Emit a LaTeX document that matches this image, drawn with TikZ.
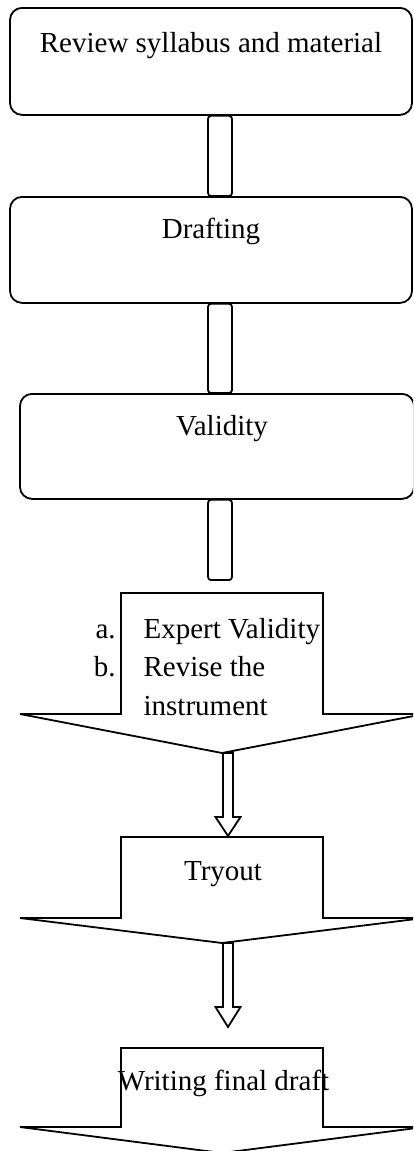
\documentclass[tikz,border=0pt]{standalone}
\usepackage{fontspec}
\setmainfont{Liberation Serif}
\usetikzlibrary{calc}

\begin{document}
\begin{tikzpicture}[x=1pt, y=-1pt, line width=1.8pt, font=\fontsize{29}{38.5}\selectfont,
    roundbox/.style={draw, rounded corners=12pt, inner sep=0pt, anchor=north},
    link/.style={draw, rounded corners=3pt},
    blockarrow/.style={draw, line join=miter},
    hollowarrow/.style={draw, line join=miter}]
    \clip (0, 0) rectangle (413, 1151);

    % rounded steps
    \node[roundbox, minimum width=402pt, text height=45pt, text depth=62pt] (review) at (211, 7) {Review syllabus and material\hspace{6pt}};
    \node[roundbox, minimum width=402pt, text height=42pt, text depth=64pt] (drafting) at (211, 196) {Drafting};
    \node[roundbox, minimum width=394pt, text height=42pt, text depth=63pt] (validity) at (217, 393) {\hspace{10pt}Validity};

    \coordinate (gap) at (232, 580);
    \draw[link] (208,0 |- review.south) rectangle (232,0 |- drafting.north);
    \draw[link] (208,0 |- drafting.south) rectangle (232,0 |- validity.north);
    \draw[link] (208,0 |- validity.south) rectangle (gap);

    % block arrows
    \draw[blockarrow] (121, 593) -- (323, 593) -- (323, 714) -- (424, 714) -- (222, 753) -- (20, 714) -- (121, 714) -- cycle;
    \node[anchor=base west, inner sep=0pt] (expert) at (93, 638) {\begin{tabular}[t]{@{}r@{\hspace{28pt}}l@{}}
        a. & Expert Validity\\
        b. & Revise the\\
           & instrument
      \end{tabular}};
    \coordinate (tip1) at (228, 753);

    \draw[blockarrow] (121, 837) -- (323, 837) -- (323, 918) -- (424, 918) -- (222, 943) -- (20, 918) -- (121, 918) -- cycle;
    \node[anchor=base] (tryout) at (223, 880) {Tryout};
    \coordinate (tip2) at (228, 943);

    \draw[blockarrow] (121, 1048) -- (323, 1048) -- (323, 1127) -- (424, 1127) -- (222, 1153) -- (20, 1127) -- (121, 1127) -- cycle;
    \node[anchor=base] (final) at (223.5, 1090) {Writing final draft};

    % hollow arrows between blocks
    \draw[hollowarrow] (tip1) ++(-5, 0) -- ++(0, 64) -- ++(-7.5, 0) -- ++(12.5, 19) -- ++(12.5, -19) -- ++(-7.5, 0) -- ++(0, -64) -- cycle;
    \draw[hollowarrow] (tip2) ++(-5, 0) -- ++(0, 64) -- ++(-7.5, 0) -- ++(12.5, 20) -- ++(12.5, -20) -- ++(-7.5, 0) -- ++(0, -64) -- cycle;

  \end{tikzpicture}
\end{document}
